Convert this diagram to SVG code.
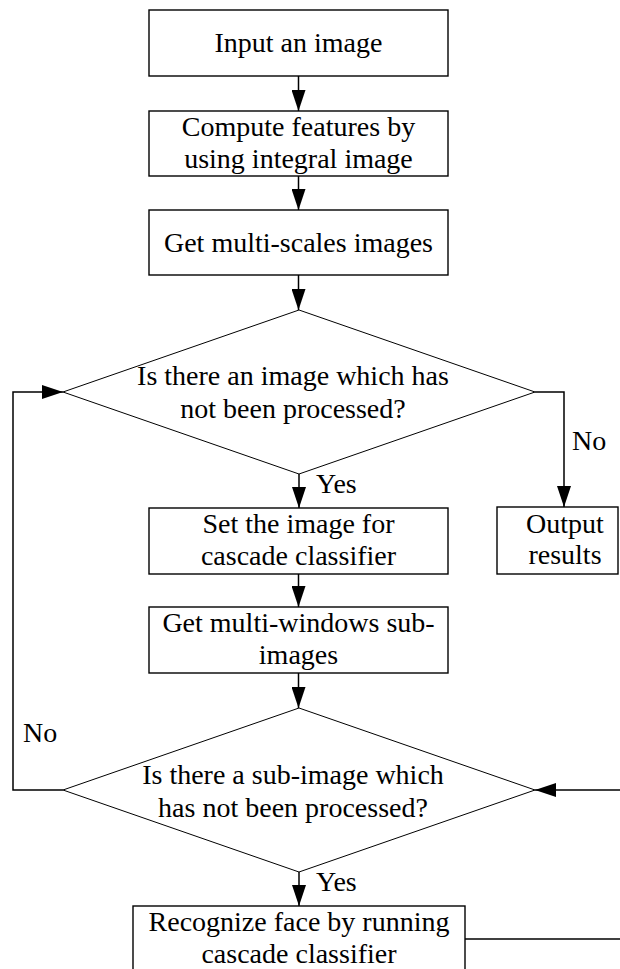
<svg xmlns="http://www.w3.org/2000/svg" width="620" height="969" viewBox="0 0 620 969">
<style>
text{font-family:'Liberation Serif','Times New Roman',Tinos,'DejaVu Serif',serif;font-size:28px;fill:#000;}
.c{text-anchor:middle;}
.box{fill:#fff;stroke:#000;stroke-width:1.4;}
.dia{fill:#fff;stroke:#000;stroke-width:1;}
.edge{fill:none;stroke:#000;stroke-width:1.5;}
</style>
<defs>
<marker id="ah" markerUnits="userSpaceOnUse" markerWidth="21" markerHeight="14" refX="21" refY="7" orient="auto">
<path d="M0,0 L21,7 L0,14 z" fill="#000"/>
</marker>
</defs>
<rect width="620" height="969" fill="#fff"/>
<g id="connectors">
<line class="edge" x1="298.5" y1="76" x2="298.5" y2="111" marker-end="url(#ah)"/>
<line class="edge" x1="298.5" y1="176" x2="298.5" y2="210" marker-end="url(#ah)"/>
<line class="edge" x1="298.5" y1="275" x2="298.5" y2="310" marker-end="url(#ah)"/>
<line class="edge" x1="299" y1="474" x2="299" y2="508" marker-end="url(#ah)"/>
<line class="edge" x1="298.5" y1="574" x2="298.5" y2="607" marker-end="url(#ah)"/>
<line class="edge" x1="298.5" y1="673" x2="298.5" y2="708" marker-end="url(#ah)"/>
<line class="edge" x1="299" y1="872" x2="299" y2="906" marker-end="url(#ah)"/>
<polyline class="edge" points="535,392 564,392 564,507" marker-end="url(#ah)"/>
<polyline class="edge" points="63,790 13,790 13,392 63,392" marker-end="url(#ah)"/>
<line class="edge" x1="465" y1="939" x2="625" y2="939"/>
<line class="edge" x1="625" y1="790" x2="535" y2="790" marker-end="url(#ah)"/>
<text x="316" y="493">Yes</text>
<text x="316" y="891">Yes</text>
<text x="572" y="450">No</text>
<text x="23" y="742">No</text>
</g>
<g id="n1">
<rect class="box" x="149" y="10" width="299" height="66"/>
<text class="c" x="298.5" y="52">Input an image</text>
</g>
<g id="n2">
<rect class="box" x="149" y="111" width="299" height="65"/>
<text class="c" x="298.5" y="135.5">Compute features by</text>
<text class="c" x="298.5" y="167.5">using integral image</text>
</g>
<g id="n3">
<rect class="box" x="149" y="210" width="299" height="65"/>
<text class="c" x="298.5" y="252">Get multi-scales images</text>
</g>
<g id="d1">
<polygon class="dia" points="299,310 535,392 299,474 63,392"/>
<text class="c" x="293" y="385">Is there an image which has</text>
<text class="c" x="293" y="418">not been processed?</text>
</g>
<g id="n4">
<rect class="box" x="497" y="507" width="121" height="67"/>
<text class="c" x="565" y="533">Output</text>
<text class="c" x="565" y="564">results</text>
</g>
<g id="n5">
<rect class="box" x="149" y="508" width="299" height="66"/>
<text class="c" x="298.5" y="533">Set the image for</text>
<text class="c" x="298.5" y="565">cascade classifier</text>
</g>
<g id="n6">
<rect class="box" x="149" y="607" width="299" height="66"/>
<text class="c" x="298.5" y="632">Get multi-windows sub-</text>
<text class="c" x="298.5" y="664">images</text>
</g>
<g id="d2">
<polygon class="dia" points="299,708 535,790 299,872 63,790"/>
<text class="c" x="293" y="784">Is there a sub-image which</text>
<text class="c" x="293" y="817">has not been processed?</text>
</g>
<g id="n7">
<rect class="box" x="133" y="906" width="332" height="66"/>
<text class="c" x="299" y="931">Recognize face by running</text>
<text class="c" x="299" y="963">cascade classifier</text>
</g>
</svg>
